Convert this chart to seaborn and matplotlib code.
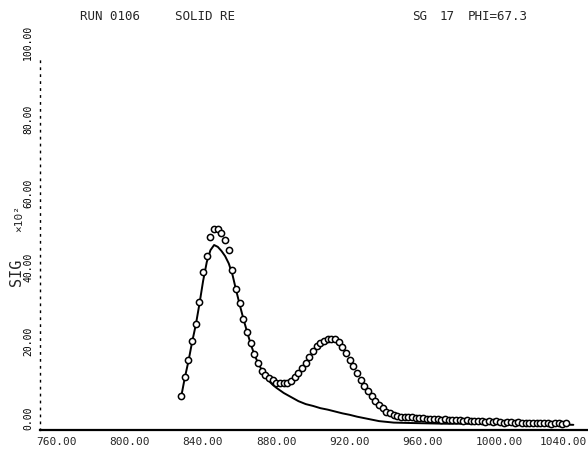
import matplotlib
matplotlib.use("Agg")
import matplotlib.pyplot as plt
import matplotlib.transforms as mtransforms
import pandas as pd
import seaborn as sns

# measured cross section (open circles)
energy_data = [836, 838, 840, 842, 844, 846, 848, 850, 852, 854, 856, 858, 860, 862,
               864, 866, 868, 870, 872, 874, 876, 878, 880, 882, 884, 886, 888, 890,
               892, 894, 896, 898, 900, 902, 904, 906, 908, 910, 912, 914, 916, 918,
               920, 922, 924, 926, 928, 930, 932, 934, 936, 938, 940, 942, 944, 946,
               948, 950, 952, 954, 956, 958, 960, 962, 964, 966, 968, 970, 972, 974,
               976, 978, 980, 982, 984, 986, 988, 990, 992, 994, 996, 998, 1000, 1002,
               1004, 1006, 1008, 1010, 1012, 1014, 1016, 1018, 1020, 1022, 1024, 1026,
               1028, 1030, 1032, 1034, 1036, 1038, 1040, 1042, 1044, 1046]
sig_data = [9.2, 14.3, 18.9, 24.1, 28.6, 34.6, 42.7, 47.0, 52.2, 54.2, 54.2, 53.2, 51.4, 48.6,
            43.2, 38.1, 34.3, 30.0, 26.5, 23.5, 20.5, 18.1, 15.9, 14.9, 14.1, 13.4, 12.8, 12.7,
            12.7, 12.8, 13.2, 14.3, 15.4, 16.8, 18.0, 19.7, 21.4, 22.7, 23.5, 24.1, 24.5, 24.7,
            24.5, 23.8, 22.3, 20.8, 18.9, 17.3, 15.4, 13.5, 11.9, 10.5, 9.2, 7.8, 6.8, 5.9,
            5.0, 4.5, 4.1, 3.8, 3.6, 3.5, 3.4, 3.5, 3.3, 3.2, 3.3, 3.1, 3.0, 3.1,
            2.9, 2.8, 2.9, 2.7, 2.6, 2.8, 2.6, 2.5, 2.6, 2.4, 2.5, 2.3, 2.4, 2.2,
            2.3, 2.1, 2.3, 2.2, 2.0, 2.2, 2.1, 1.9, 2.1, 2.0, 1.9, 2.0,
            1.8, 1.9, 2.0, 1.8, 1.9, 1.7, 1.8, 1.9, 1.7, 1.8]

# calculated curve (solid line)
energy_fit = [836, 838, 840, 842, 844, 846, 848, 850, 852, 854, 856, 858, 860, 862,
              864, 866, 868, 870, 872, 874, 876, 878, 880, 882, 884, 886, 888, 890,
              892, 896, 900, 904, 908, 912, 916, 920, 924, 928, 932, 936, 940, 944,
              948, 952, 960, 970, 980, 990, 1000, 1010, 1020, 1030, 1040, 1050]
sig_fit = [8.9, 14.1, 18.6, 23.8, 28.4, 34.1, 40.3, 45.4, 48.6, 50.0, 49.5, 48.4, 47.0, 45.0,
           42.0, 37.8, 33.8, 30.0, 26.5, 23.2, 20.3, 18.1, 16.2, 14.6, 13.2, 12.2, 11.4, 10.7,
           10.0, 8.9, 7.8, 7.0, 6.5, 5.9, 5.5, 5.0, 4.5, 4.1, 3.6, 3.2, 2.8, 2.4,
           2.2, 2.0, 1.9, 1.8, 1.7, 1.7, 1.6, 1.6, 1.5, 1.5, 1.5, 1.4]

x_ticks = [760, 800, 840, 880, 920, 960, 1000, 1040]
y_ticks = [0, 20, 40, 60, 80, 100]

data = pd.DataFrame({"E": energy_data, "SIG": sig_data})
fit = pd.DataFrame({"E": energy_fit, "SIG": sig_fit})

sns.set_style("white")
plt.rcParams["font.family"] = ["DejaVu Sans Mono", "DejaVu Sans"]

fig = plt.figure(figsize=(5.88, 4.49), dpi=100)
ax = fig.add_axes([40 / 588, 1 - 430 / 449, 548 / 588, 370 / 449])

sns.lineplot(data=fit, x="E", y="SIG", ax=ax, color="black", linewidth=1.4)
sns.scatterplot(data=data, x="E", y="SIG", ax=ax, marker="o", s=20,
                facecolor="white", edgecolor="black", linewidth=1.1, zorder=3)

ax.set_xlim(759, 1058)
ax.set_ylim(0, 100)
ax.set_xlabel("")
ax.set_ylabel("")

for side in ["top", "right"]:
    ax.spines[side].set_visible(False)
ax.spines["bottom"].set_linewidth(1.6)
ax.spines["bottom"].set_color("black")
ax.spines["left"].set_color("black")
ax.spines["left"].set_linewidth(1.0)
ax.spines["left"].set_linestyle((0, (1, 4)))

# x tick labels start just left of the tick, plotter style
ax.set_xticks(x_ticks)
ax.set_xticklabels([])
ax.tick_params(axis="x", direction="in", length=3, width=1, colors="black")
xtrans = ax.get_xaxis_transform()
for v in x_ticks[:-1]:
    ax.text(v, 0, f"{v:.2f}", fontsize=8, ha="left", va="top", clip_on=False,
            transform=xtrans + mtransforms.ScaledTranslation(-6 / 100, -7 / 100,
                                                             fig.dpi_scale_trans))
# last label sits at the paper edge
fig.text(587 / 588, 1 - 437 / 449, f"{x_ticks[-1]:.2f}", fontsize=8,
         ha="right", va="top")

ax.set_yticks(y_ticks)
ax.set_yticklabels([f"{v:.2f}" for v in y_ticks], fontsize=7, rotation=90,
                   va="bottom", ha="right")
ax.tick_params(axis="y", direction="out", length=2, width=1, pad=3, colors="black")

fig.text(17 / 588, 1 - 272 / 449, "SIG", rotation=90, fontsize=11,
         ha="center", va="center")
fig.text(19 / 588, 1 - 218 / 449, "×10²", rotation=90, fontsize=8,
         ha="center", va="center")

fig.text(80 / 588, 1 - 16 / 449, "RUN 0106", fontsize=9, va="center")
fig.text(175 / 588, 1 - 16 / 449, "SOLID RE", fontsize=9, va="center")
fig.text(412 / 588, 1 - 16 / 449, "SG", fontsize=9, va="center")
fig.text(440 / 588, 1 - 16 / 449, "17", fontsize=9, va="center")
fig.text(468 / 588, 1 - 16 / 449, "PHI=67.3", fontsize=9, va="center")

fig.savefig("out.png", dpi=100)
